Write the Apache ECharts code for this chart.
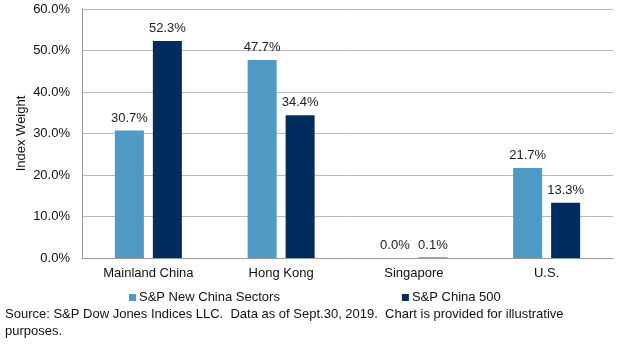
<!DOCTYPE html>
<html><head><meta charset="utf-8">
<script src="https://cdn.jsdelivr.net/npm/echarts@6/dist/echarts.min.js"></script>
<style>html,body{margin:0;padding:0;background:#fff}#c{width:630px;height:352px}</style>
</head><body><div id="c"></div>
<script>
const categories = ["Mainland China", "Hong Kong", "Singapore", "U.S."];
const seriesNames = ["S&P New China Sectors", "S&P China 500"];
const newChinaSectors = [30.7, 47.7, 0.0, 21.7];
const china500 = [52.3, 34.4, 0.1, 13.3];
const yTicks = [0, 10, 20, 30, 40, 50, 60];
const sourceNote = "Source: S&P Dow Jones Indices LLC.  Data as of Sept.30, 2019.  Chart is provided for illustrative\npurposes.";

const font = "Liberation Sans, Arial, sans-serif";
const chart = echarts.init(document.getElementById('c'), null, {renderer: 'canvas'});
const lbl = {show: true, position: 'top', distance: 6, color: '#222', fontSize: 13, fontFamily: font,
  formatter: p => p.value.toFixed(1) + '%'};
chart.setOption({
  animation: false,
  grid: {left: 82, right: 17, top: 9, bottom: 94},
  legend: {
    data: seriesNames, left: 124, top: 286, itemWidth: 7, itemHeight: 7, itemGap: 122,
    icon: 'rect', textStyle: {fontSize: 13, fontFamily: font, color: '#111', padding: [0,0,0,-2]}
  },
  graphic: [{type: 'text', left: 5, top: 306, style: {text: sourceNote, fontSize: 13, fontFamily: font, fill: '#111', lineHeight: 17}}],
  xAxis: {
    type: 'category', data: categories,
    axisLine: {lineStyle: {color: '#999'}}, axisTick: {show: false},
    axisLabel: {fontSize: 13, fontFamily: font, color: '#111', margin: 9}
  },
  yAxis: {
    type: 'value', min: yTicks[0], max: yTicks[yTicks.length-1], interval: 10,
    name: 'Index Weight', nameLocation: 'middle', nameGap: 54, nameRotate: 90, nameMoveOverlap: false,
    nameTextStyle: {fontSize: 13, fontFamily: font, color: '#111'},
    axisLine: {show: true, lineStyle: {color: '#999'}}, axisTick: {show: false},
    axisLabel: {fontSize: 13, fontFamily: font, color: '#111', margin: 12, formatter: v => v.toFixed(1) + '%'},
    splitLine: {lineStyle: {color: '#b8b8b8'}}
  },
  series: [
    {name: seriesNames[0], type: 'bar', data: newChinaSectors, barWidth: 29, barGap: '31%',
     itemStyle: {color: '#4E9AC5'}, label: lbl},
    {name: seriesNames[1], type: 'bar', data: china500, barWidth: 29,
     itemStyle: {color: '#002C5F'}, label: lbl}
  ]
});
</script></body></html>
